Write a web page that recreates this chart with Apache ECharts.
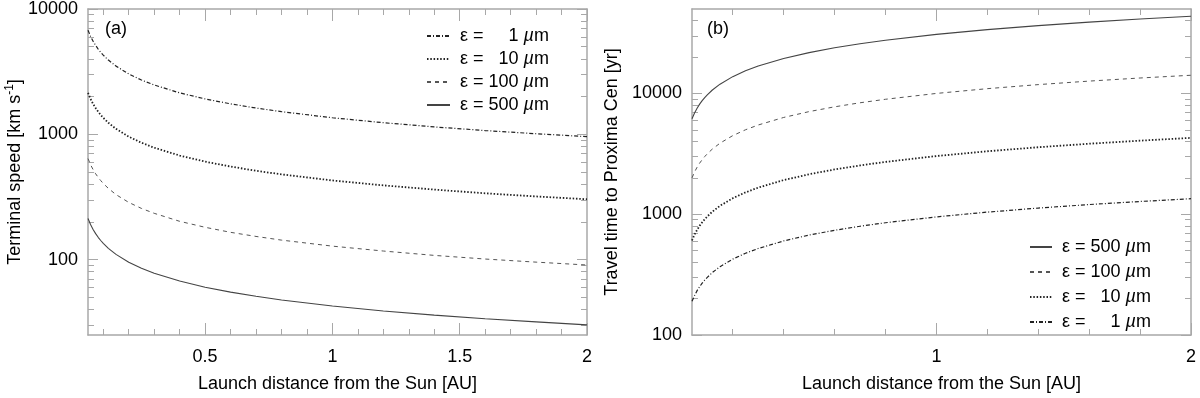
<!DOCTYPE html>
<html>
<head>
<meta charset="utf-8">
<script src="https://cdn.jsdelivr.net/npm/echarts@6/dist/echarts.min.js"></script>
<style>
  html, body { margin: 0; padding: 0; background: #fff; }
  #chart { width: 1200px; height: 398px; }
</style>
</head>
<body>
<div id="chart"></div>
<script>
// launch distance [AU]
const distance = [0.04, 0.05, 0.06, 0.07, 0.08, 0.09, 0.1, 0.12, 0.15, 0.2, 0.25, 0.3, 0.4, 0.5, 0.6, 0.7, 0.8, 1.0, 1.2, 1.4, 1.6, 1.8, 2.0];
const grainSizes = [1, 10, 100, 500];

// (a) terminal speed [km/s]
const speed1 = [6775, 6060, 5530, 5120, 4790, 4515, 4285, 3910, 3500, 3030, 2710, 2475, 2140, 1915, 1750, 1620, 1515, 1355, 1237, 1145, 1071, 1010, 958];
const speed10 = [2140, 1915, 1747, 1618, 1513, 1427, 1353, 1236, 1105, 957, 856, 781, 677, 605, 553, 511, 479, 428, 391, 362, 338, 319, 303];
const speed100 = [640, 572, 523, 484, 453, 427, 405, 370, 330, 286, 256, 234, 202, 181, 165, 153, 143, 128, 117, 108, 101, 95.4, 90.5];
const speed500 = [213, 190.5, 174, 161, 150.6, 142, 134.7, 123, 110, 95.3, 85.2, 77.8, 67.4, 60.2, 55.0, 50.9, 47.6, 42.6, 38.9, 36.0, 33.7, 31.8, 30.1];

// (b) travel time to Proxima Cen [yr]
const time1 = [190, 212, 233, 251, 269, 285, 300, 329, 368, 425, 475, 520, 601, 672, 736, 795, 850, 950, 1041, 1124, 1202, 1275, 1344];
const time10 = [606, 678, 742, 802, 857, 909, 958, 1050, 1174, 1355, 1515, 1660, 1916, 2143, 2347, 2535, 2710, 3030, 3320, 3585, 3833, 4065, 4285];
const time100 = [2000, 2236, 2449, 2646, 2828, 3000, 3162, 3464, 3873, 4472, 5000, 5477, 6325, 7071, 7746, 8367, 8944, 10000, 10950, 11830, 12650, 13420, 14140];
const time500 = [6160, 6890, 7540, 8150, 8710, 9240, 9740, 10670, 11930, 13770, 15400, 16870, 19480, 21780, 23860, 25770, 27550, 30800, 33740, 36440, 38960, 41320, 43560];

// tick values
const xTicksA = [0.5, 1, 1.5, 2];
const xMinorA = [0.1, 0.2, 0.3, 0.4, 0.6, 0.7, 0.8, 0.9, 1.1, 1.2, 1.3, 1.4, 1.6, 1.7, 1.8, 1.9];
const xTicksB = [1, 2];
const xMinorB = [0.2, 0.4, 0.6, 0.8, 1.2, 1.4, 1.6, 1.8];
const yTicksA = [100, 1000, 10000];
const yMinorA = [30, 40, 50, 60, 70, 80, 90, 200, 300, 400, 500, 600, 700, 800, 900, 2000, 3000, 4000, 5000, 6000, 7000, 8000, 9000];
const yTicksB = [100, 1000, 10000];
const yMinorB = [200, 300, 400, 500, 600, 700, 800, 900, 2000, 3000, 4000, 5000, 6000, 7000, 8000, 9000, 20000, 30000, 40000];

const FONT = "Liberation Sans, Arial, sans-serif";
const AXIS_COLOR = "#a8a8a8";

const lineStyles = {
  1: { color: "#222", width: 1.2, type: [4, 2, 1, 2] },
  10: { color: "#222", width: 1.8, type: [1.5, 1.8] },
  100: { color: "#555", width: 1, type: [4, 4] },
  500: { color: "#444", width: 1.1, type: "solid" },
};
const seriesName = (s) => "ε = " + s + " µm";

function xAxes(grid, ticks, minors, name) {
  const base = {
    gridIndex: grid, type: "value", min: 0.04, max: 2,
    splitLine: { show: false },
  };
  const tickStyle = { color: AXIS_COLOR, width: 1 };
  return [
    Object.assign({}, base, {
      position: "bottom",
      name: name, nameLocation: "middle", nameGap: 40,
      nameTextStyle: { color: "#000", fontSize: 18, fontFamily: FONT },
      axisLine: { show: true, lineStyle: { color: AXIS_COLOR, width: 1.5 } },
      axisTick: { show: true, inside: true, length: 12, customValues: ticks, lineStyle: tickStyle },
      axisLabel: { show: true, customValues: ticks, margin: 13, color: "#000", fontSize: 18, fontFamily: FONT, formatter: (v) => String(v) },
    }),
    Object.assign({}, base, {
      position: "bottom",
      axisLine: { show: false },
      axisTick: { show: true, inside: true, length: 6, customValues: minors, lineStyle: tickStyle },
      axisLabel: { show: false },
    }),
    Object.assign({}, base, {
      position: "top",
      axisLine: { show: true, lineStyle: { color: AXIS_COLOR, width: 1.5 } },
      axisTick: { show: true, inside: true, length: 12, customValues: ticks, lineStyle: tickStyle },
      axisLabel: { show: false },
    }),
    Object.assign({}, base, {
      position: "top",
      axisLine: { show: false },
      axisTick: { show: true, inside: true, length: 6, customValues: minors, lineStyle: tickStyle },
      axisLabel: { show: false },
    }),
  ];
}

function yAxes(grid, min, max, ticks, minors, name, nameGap) {
  const base = {
    gridIndex: grid, type: "log", logBase: 10, min: min, max: max,
    splitLine: { show: false },
  };
  const tickStyle = { color: AXIS_COLOR, width: 1 };
  return [
    Object.assign({}, base, {
      position: "left",
      name: name, nameLocation: "middle", nameGap: nameGap,
      nameTextStyle: {
        color: "#000", fontSize: 18, fontFamily: FONT,
        rich: { sup: { fontSize: 12, fontFamily: FONT, color: "#000", padding: [0, 0, 10, 0] } },
      },
      axisLine: { show: true, lineStyle: { color: AXIS_COLOR, width: 1.5 } },
      axisTick: { show: true, inside: true, length: 10, customValues: ticks, lineStyle: tickStyle },
      axisLabel: { show: true, customValues: ticks, margin: 10, color: "#000", fontSize: 18, fontFamily: FONT, formatter: (v) => String(Math.round(v)) },
    }),
    Object.assign({}, base, {
      position: "left",
      axisLine: { show: false },
      axisTick: { show: true, inside: true, length: 6, customValues: minors, lineStyle: tickStyle },
      axisLabel: { show: false },
    }),
    Object.assign({}, base, {
      position: "right",
      axisLine: { show: true, lineStyle: { color: AXIS_COLOR, width: 1.5 } },
      axisTick: { show: true, inside: true, length: 10, customValues: ticks, lineStyle: tickStyle },
      axisLabel: { show: false },
    }),
    Object.assign({}, base, {
      position: "right",
      axisLine: { show: false },
      axisTick: { show: true, inside: true, length: 6, customValues: minors, lineStyle: tickStyle },
      axisLabel: { show: false },
    }),
  ];
}

function makeSeries(size, values, grid) {
  return {
    name: seriesName(size),
    type: "line",
    xAxisIndex: grid * 4,
    yAxisIndex: grid * 4,
    symbol: "none",
    showSymbol: false,
    lineStyle: lineStyles[size],
    itemStyle: { color: lineStyles[size].color },
    data: distance.map((d, i) => [d, values[i]]),
  };
}

const txt = { fontSize: 18, fontFamily: FONT, color: "#000" };
const legendRich = {
  e: Object.assign({}, txt, { padding: [0, 0, 0, 5] }),
  n1: Object.assign({}, txt, { padding: [0, 0, 0, 25] }),
  n2: Object.assign({}, txt, { padding: [0, 0, 0, 15] }),
  n3: Object.assign({}, txt, { padding: [0, 0, 0, 5] }),
  u: Object.assign({}, txt, { fontStyle: "italic", padding: [0, 0, 0, 5] }),
  m: txt,
};
const legendFormatter = (name) => {
  const size = grainSizes.find((s) => seriesName(s) === name);
  const digits = String(size).length;
  return "{e|ε =}{n" + digits + "|" + size + "}{u|µ}{m|m}";
};

const myChart = echarts.init(document.getElementById("chart"));
const option = {
  animation: false,
  backgroundColor: "#fff",
  grid: [
    { left: 88, right: 613, top: 9, bottom: 60 },
    { left: 692, right: 9, top: 9, bottom: 60 },
  ],
  xAxis: [].concat(
    xAxes(0, xTicksA, xMinorA, "Launch distance from the Sun [AU]"),
    xAxes(1, xTicksB, xMinorB, "Launch distance from the Sun [AU]")
  ),
  yAxis: [].concat(
    yAxes(0, 25, 10000, yTicksA, yMinorA, "Terminal speed [km s{sup|-1}]", 60),
    yAxes(1, 100, 50000, yTicksB, yMinorB, "Travel time to Proxima Cen [yr]", 71)
  ),
  legend: [
    {
      orient: "vertical", left: 421, top: 21,
      itemWidth: 23, itemHeight: 12, itemGap: 3,
      data: grainSizes.map(seriesName),
      formatter: legendFormatter,
      itemStyle: { opacity: 0 },
      textStyle: { fontSize: 18, fontFamily: FONT, lineHeight: 20, rich: legendRich },
    },
    {
      orient: "vertical", left: 1024, top: 232,
      itemWidth: 22, itemHeight: 12, itemGap: 5,
      data: grainSizes.slice().reverse().map(seriesName),
      formatter: legendFormatter,
      itemStyle: { opacity: 0 },
      textStyle: { fontSize: 18, fontFamily: FONT, lineHeight: 20, rich: legendRich },
    },
  ],
  graphic: [
    { type: "text", left: 105, top: 20, style: { text: "(a)", fontSize: 18, fontFamily: FONT, fill: "#000" } },
    { type: "text", left: 707, top: 20, style: { text: "(b)", fontSize: 18, fontFamily: FONT, fill: "#000" } },
  ],
  series: [
    makeSeries(1, speed1, 0),
    makeSeries(10, speed10, 0),
    makeSeries(100, speed100, 0),
    makeSeries(500, speed500, 0),
    makeSeries(500, time500, 1),
    makeSeries(100, time100, 1),
    makeSeries(10, time10, 1),
    makeSeries(1, time1, 1),
  ],
};
myChart.setOption(option);
</script>
</body>
</html>
